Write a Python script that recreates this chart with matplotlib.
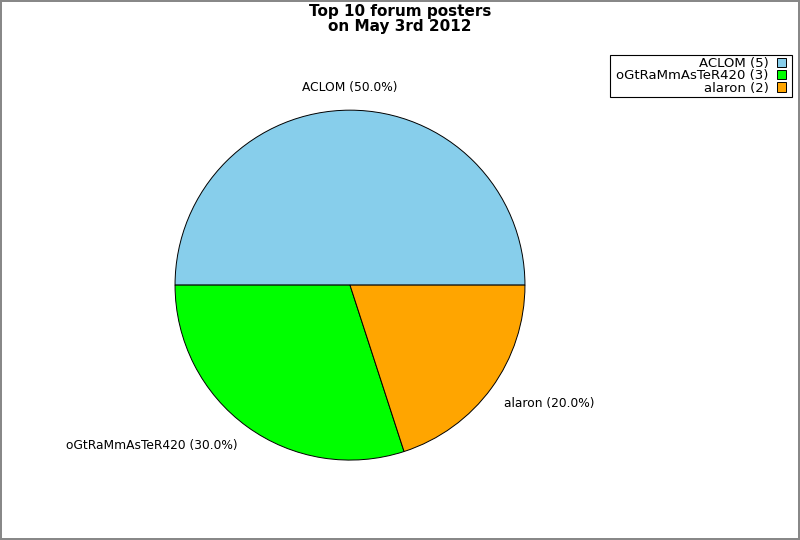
import matplotlib
matplotlib.use("Agg")
import matplotlib.pyplot as plt
from matplotlib.patches import Rectangle

# Data
posters = ["ACLOM", "oGtRaMmAsTeR420", "alaron"]
post_counts = [5, 3, 2]
colors = ["#87ceeb", "#00ff00", "#ffa500"]

TITLE = "Top 10 forum posters\non May 3rd 2012"


def main():
    fig = plt.figure(figsize=(8, 5.4), dpi=100, facecolor="white",
                     edgecolor="#888888", linewidth=1.5)

    # axes placed so the pie centre / radius match the reference
    ax = fig.add_axes([0.164, 0.067, 0.547, 0.810])

    total = sum(post_counts)
    pie_labels = [f"{p} ({c / total * 100:.1f}%)" for p, c in zip(posters, post_counts)]

    wedges, texts = ax.pie(post_counts, labels=pie_labels, colors=colors,
                           startangle=0, counterclock=True, labeldistance=1.09,
                           wedgeprops={"edgecolor": "black", "linewidth": 0.7},
                           textprops={"fontsize": 8.8})
    # old-style label placement: labels sit above / below the anchor point
    for t in texts:
        x, y = t.get_position()
        t.set_verticalalignment("bottom" if y > 0 else "top")
    texts[0].set_horizontalalignment("center")
    ax.set_xlim(-1.25, 1.25)
    ax.set_ylim(-1.25, 1.25)
    ax.set_aspect("equal")

    fig.suptitle(TITLE, fontsize=11, fontweight="bold", y=0.993, linespacing=1.0)

    legend_labels = [f"{p} ({c})" for p, c in zip(posters, post_counts)]
    leg = fig.legend(wedges, legend_labels, loc="upper right",
                     bbox_to_anchor=(786 / 800, 1 - 57 / 540), markerfirst=False,
                     frameon=False, fontsize=9.5,
                     handlelength=0.7, handleheight=0.7, handletextpad=0.6,
                     labelspacing=-0.05, borderpad=0.0, borderaxespad=0)

    # frame drawn by hand: wider side padding than top/bottom like the reference
    fig.canvas.draw()
    bb = leg.get_window_extent()
    x0, y0 = bb.x0 - 6, bb.y0 - 2
    w, h = bb.width + 12, bb.height + 4
    fig.patches.append(Rectangle((x0, y0), w, h, transform=None, fill=False,
                                 edgecolor="black", linewidth=0.8, zorder=5))

    fig.savefig("out.png", dpi=100, facecolor=fig.get_facecolor(),
                edgecolor=fig.get_edgecolor())


if __name__ == "__main__":
    main()
